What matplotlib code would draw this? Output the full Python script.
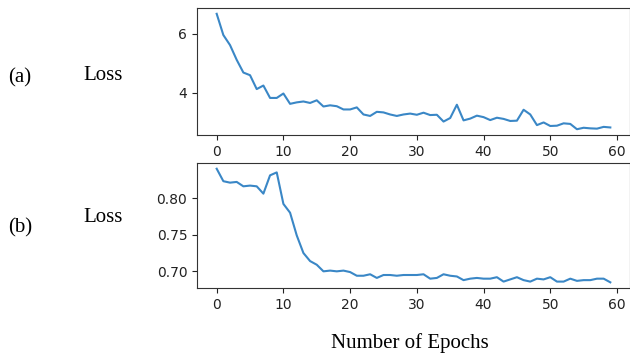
import numpy as np
import matplotlib.pyplot as plt

# loss per epoch
epochs = np.arange(60)
loss_a = [6.68, 5.96, 5.62, 5.12, 4.69, 4.60, 4.13, 4.25, 3.83, 3.83,
          3.98, 3.63, 3.68, 3.71, 3.66, 3.75, 3.54, 3.58, 3.55, 3.44,
          3.44, 3.51, 3.27, 3.22, 3.36, 3.34, 3.27, 3.22, 3.27, 3.30,
          3.26, 3.33, 3.25, 3.26, 3.03, 3.15, 3.60, 3.07, 3.13, 3.23,
          3.18, 3.08, 3.16, 3.12, 3.05, 3.06, 3.43, 3.27, 2.91, 3.00,
          2.88, 2.89, 2.97, 2.95, 2.77, 2.82, 2.80, 2.79, 2.85, 2.83]
loss_b = [0.840, 0.823, 0.821, 0.822, 0.816, 0.817, 0.816, 0.806, 0.831, 0.835,
          0.792, 0.780, 0.749, 0.725, 0.714, 0.709, 0.700, 0.701, 0.700, 0.701,
          0.699, 0.694, 0.694, 0.696, 0.691, 0.695, 0.695, 0.694, 0.695, 0.695,
          0.695, 0.696, 0.690, 0.691, 0.696, 0.694, 0.693, 0.688, 0.690, 0.691,
          0.690, 0.690, 0.692, 0.686, 0.689, 0.692, 0.688, 0.686, 0.690, 0.689,
          0.692, 0.686, 0.686, 0.690, 0.687, 0.688, 0.688, 0.690, 0.690, 0.685]

fig = plt.figure(figsize=(6.3, 3.55), dpi=100)

ax1 = fig.add_axes([0.3127, 0.6197, 0.6873, 0.3577])
ax1.plot(epochs, loss_a, color='#3a87c6', linewidth=1.5)
ax1.set_yticks([4, 6])

ax2 = fig.add_axes([0.3127, 0.1887, 0.6873, 0.352])
ax2.plot(epochs, loss_b, color='#3a87c6', linewidth=1.5)
ax2.set_yticks([0.70, 0.75, 0.80])
ax2.set_yticklabels(['0.70', '0.75', '0.80'])

for ax in (ax1, ax2):
    ax.set_xticks([0, 10, 20, 30, 40, 50, 60])
    ax.tick_params(labelsize=10, colors='#222222')
    for s in ax.spines.values():
        s.set_color('#333333')

serif = 'Liberation Serif'
fig.text(20 / 630, 1 - 78 / 355, '(a)', family=serif, fontsize=15, ha='center', va='center')
fig.text(103 / 630, 1 - 75 / 355, 'Loss', family=serif, fontsize=15, ha='center', va='center')
fig.text(20 / 630, 1 - 228 / 355, '(b)', family=serif, fontsize=15, ha='center', va='center')
fig.text(103 / 630, 1 - 217 / 355, 'Loss', family=serif, fontsize=15, ha='center', va='center')
fig.text(410 / 630, 1 - 343 / 355, 'Number of Epochs', family=serif, fontsize=15, ha='center', va='center')

fig.savefig('out.png', dpi=100)
